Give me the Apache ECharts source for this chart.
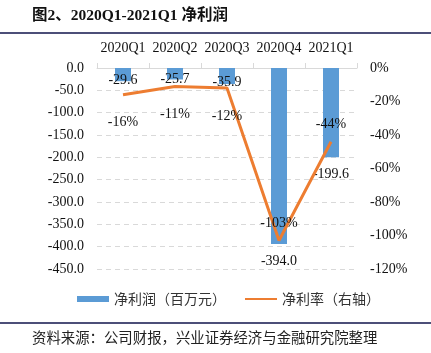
<!DOCTYPE html>
<html><head><meta charset="utf-8">
<script src="https://cdn.jsdelivr.net/npm/echarts@6/dist/echarts.min.js"></script>
<style>html,body{margin:0;padding:0;background:#fff}#c{width:431px;height:353px}</style>
</head><body><div id="c"></div>
<script>
const categories = ['2020Q1','2020Q2','2020Q3','2020Q4','2021Q1'];
const netProfit = [-29.6, -25.7, -35.9, -394.0, -199.6];
const netMargin = [-16, -11, -12, -103, -44];
const leftTicks = {min: -450, max: 0, interval: 50};
const rightTicks = {min: -120, max: 0, interval: 20};
const seriesNames = ['净利润（百万元）', '净利率（右轴）'];
const titleText = '图2、2020Q1-2021Q1 净利润';
const sourceText = '资料来源：公司财报，兴业证券经济与金融研究院整理';

const serif = '"Liberation Serif", "Times New Roman", serif';
const cjk = '"Noto Sans CJK SC", sans-serif';
const chart = echarts.init(document.getElementById('c'), null, {renderer: 'canvas'});

const barData = netProfit.map((v, i) => ({
  value: v,
  label: Math.abs(v) < 100 ? {position: 'inside', offset: [0, 6]} : {position: 'outside', distance: 10}
}));
const lineData = netMargin.map((v, i) => ({
  value: v,
  label: v > -30 ? {position: 'bottom', distance: 21} : {position: 'top', distance: 10}
}));

chart.setOption({
  animation: false,
  title: {
    text: titleText, left: 32, top: 8, padding: 0,
    textStyle: {fontFamily: '"Liberation Serif", "Noto Sans CJK SC", serif', fontWeight: 'bold', fontSize: 15.5, color: '#111'}
  },
  graphic: [
    {type: 'rect', shape: {x: 0, y: 32, width: 431, height: 2}, style: {fill: '#4c4f78'}},
    {type: 'rect', shape: {x: 0, y: 322, width: 431, height: 2}, style: {fill: '#4c4f78'}},
    {type: 'text', left: 32, top: 330, style: {text: sourceText, font: '14.4px ' + cjk, fill: '#222'}}
  ],
  grid: {left: 97, right: 74, top: 68, bottom: 84},
  legend: {
    bottom: 42, left: 72, itemGap: 18, itemWidth: 32, itemHeight: 6,
    textStyle: {fontFamily: cjk, fontSize: 14, color: '#333'},
    data: [{name: seriesNames[0], icon: 'rect'}, {name: seriesNames[1], itemStyle: {opacity: 0}}]
  },
  xAxis: {
    type: 'category', data: categories, position: 'top',
    axisLine: {show: true, lineStyle: {color: '#d9d9d9', width: 1}},
    axisTick: {show: true, length: 5, lineStyle: {color: '#d9d9d9'}},
    axisLabel: {fontFamily: serif, fontSize: 14, color: '#111', margin: 13, interval: 0}
  },
  yAxis: [
    {
      type: 'value', min: leftTicks.min, max: leftTicks.max, interval: leftTicks.interval,
      axisLine: {show: false}, axisTick: {show: false},
      axisLabel: {fontFamily: serif, fontSize: 14, color: '#111', margin: 13, formatter: v => v.toFixed(1)},
      splitLine: {show: true, lineStyle: {color: '#d9d9d9', type: [5, 4], width: 1}}
    },
    {
      type: 'value', min: rightTicks.min, max: rightTicks.max, interval: rightTicks.interval,
      axisLine: {show: false}, axisTick: {show: false},
      axisLabel: {fontFamily: serif, fontSize: 14, color: '#111', margin: 13, formatter: v => v + '%'},
      splitLine: {show: false}
    }
  ],
  series: [
    {
      name: seriesNames[0], type: 'bar', data: barData, barWidth: 16,
      itemStyle: {color: '#5b9bd5'},
      label: {show: true, fontFamily: serif, fontSize: 14, color: '#111', formatter: p => p.value.toFixed(1)}
    },
    {
      name: seriesNames[1], type: 'line', yAxisIndex: 1, data: lineData,
      symbol: 'circle', symbolSize: 0, showSymbol: true,
      lineStyle: {color: '#ed7d31', width: 3}, itemStyle: {color: '#ed7d31'},
      label: {show: true, fontFamily: serif, fontSize: 14, color: '#111', formatter: p => p.value + '%'}
    }
  ]
});
</script></body></html>
